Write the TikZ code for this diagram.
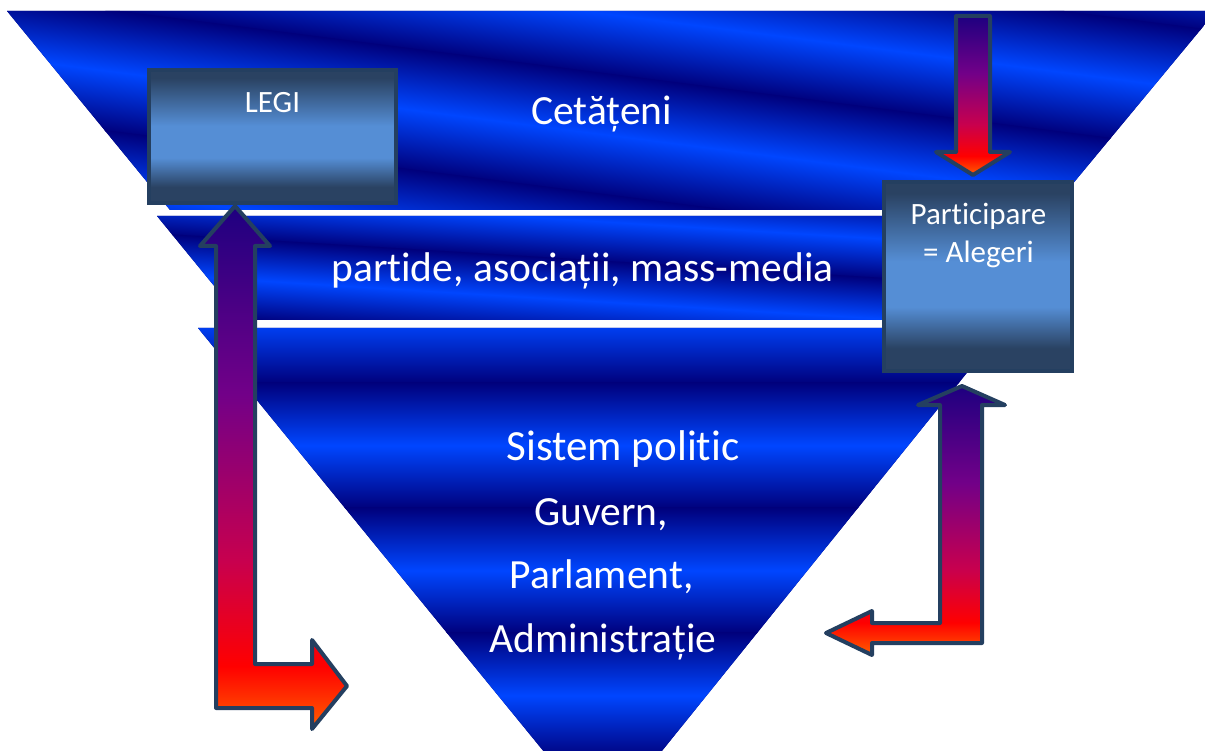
\documentclass[tikz,border=0pt]{standalone}
\usepackage{fontspec}
\setmainfont{Carlito}[Ligatures={NoCommon}]
\definecolor{navyd}{HTML}{00007C}
\definecolor{blueb}{HTML}{0046FF}
\definecolor{bdark}{HTML}{2A4262}
\definecolor{blight}{HTML}{558ED5}
\definecolor{edgec}{HTML}{243F60}
\definecolor{aind}{HTML}{1E0080}
\definecolor{apur}{HTML}{720088}
\definecolor{acrim}{HTML}{C8004E}
\definecolor{ared}{HTML}{FF0000}
\definecolor{aora}{HTML}{FF6000}
\pgfdeclareverticalshading{boxsh}{100bp}{color(0bp)=(bdark); color(31bp)=(bdark); color(42bp)=(blight); color(54bp)=(blight); color(72bp)=(bdark); color(100bp)=(bdark)}
\pgfdeclareverticalshading{arrsh}{100bp}{color(0bp)=(aora); color(25bp)=(aora); color(31bp)=(ared); color(41bp)=(acrim); color(57bp)=(apur); color(75bp)=(aind); color(100bp)=(aind)}
\tikzset{
  stripe/.style={top color=navyd, bottom color=navyd, middle color=blueb, draw=none},
  box/.style={draw=edgec, line width=4pt, shade, shading=boxsh, inner sep=0pt},
  arr/.style={draw=edgec, line width=4pt, line join=round, shade, shading=arrsh},
  bigtxt/.style={text=white, font=\fontsize{41.5}{48}\selectfont, anchor=base, inner sep=0pt},
  smalltxt/.style={text=white, font=\fontsize{31}{38}\selectfont, anchor=base, inner sep=0pt}
}
\begin{document}
\begin{tikzpicture}[x=1pt,y=-1pt]
\useasboundingbox (0,0) rectangle (1205,751);
\fill[white] (0,0) rectangle (1205,751);
\clip (0,0) rectangle (1205,751);
% band 1
\begin{scope}
  \clip (7,11) -- (1216,11) -- (1051,210) -- (170,210) -- cycle;
  \fill[navyd] (0,0) rectangle (1216,215);
  \begin{scope}[transform canvas={rotate around={-7.3:(611,110)}}]
    \foreach \k in {-285,-165,...,435} \shade[stripe] (-300,\k-0.8) rectangle (1500,\k+120.8);
  \end{scope}
\end{scope}
% band 2
\begin{scope}
  \clip (157,216) -- (1065,216) -- (980,320) -- (242,320) -- cycle;
  \fill[navyd] (150,210) rectangle (1070,325);
  \begin{scope}[transform canvas={rotate around={-3.5:(611,268)}}]
    \foreach \k in {102,182,...,422} \shade[stripe] (-300,\k-0.8) rectangle (1500,\k+80.8);
  \end{scope}
\end{scope}
% band 3
\begin{scope}
  \clip (198,328) -- (1003,328) -- (603,824) -- cycle;
  \fill[navyd] (190,320) rectangle (1010,760);
  \foreach \k in {258,383,...,883} \shade[stripe] (100,\k-0.5) rectangle (1100,\k+125.5);
\end{scope}
% boxes
\node[box, minimum width=247pt, minimum height=133pt] (legibox) at (272.5,136.5) {};
\node[box, minimum width=188pt, minimum height=189pt] (partbox) at (978,276.5) {};
% arrows
\path[arr] (235,206) -- (270,246) -- (255,246) -- (255,664) -- (312,664) -- (312,640) -- (347,686) -- (312,729) -- (312,708) -- (216,708) -- (216,246) -- (200,246) -- cycle;
\path[arr] (962,386) -- (1005,405) -- (982,405) -- (982,643) -- (872,643) -- (872,655) -- (826,633) -- (872,611) -- (872,623) -- (940,623) -- (940,405) -- (918,405) -- cycle;
\path[arr] (956,16) -- (990,16) -- (990,152) -- (1010,152) -- (973,175) -- (936,152) -- (956,152) -- cycle;
% texts
\node[bigtxt] (cet) at (601.5,125) {Cetățeni};
\node[bigtxt] (part) at (582.5,282) {partide, asociații, mass-media};
\node[bigtxt, font=\fontsize{43}{48}\selectfont] (sis) at (623,460) {Sistem politic};
\node[bigtxt] (guv) at (601,525) {Guvern,};
\node[bigtxt] (parl) at (601.5,588) {Parlament,};
\node[bigtxt] (adm) at (603,652) {Administrație};
\node[smalltxt] (legi) at (272.5,113) {LEGI};
\node[smalltxt] (pa1) at (978.5,225) {Participare};
\node[smalltxt] (pa2) at (978.5,263) {= Alegeri};
\end{tikzpicture}
\end{document}
